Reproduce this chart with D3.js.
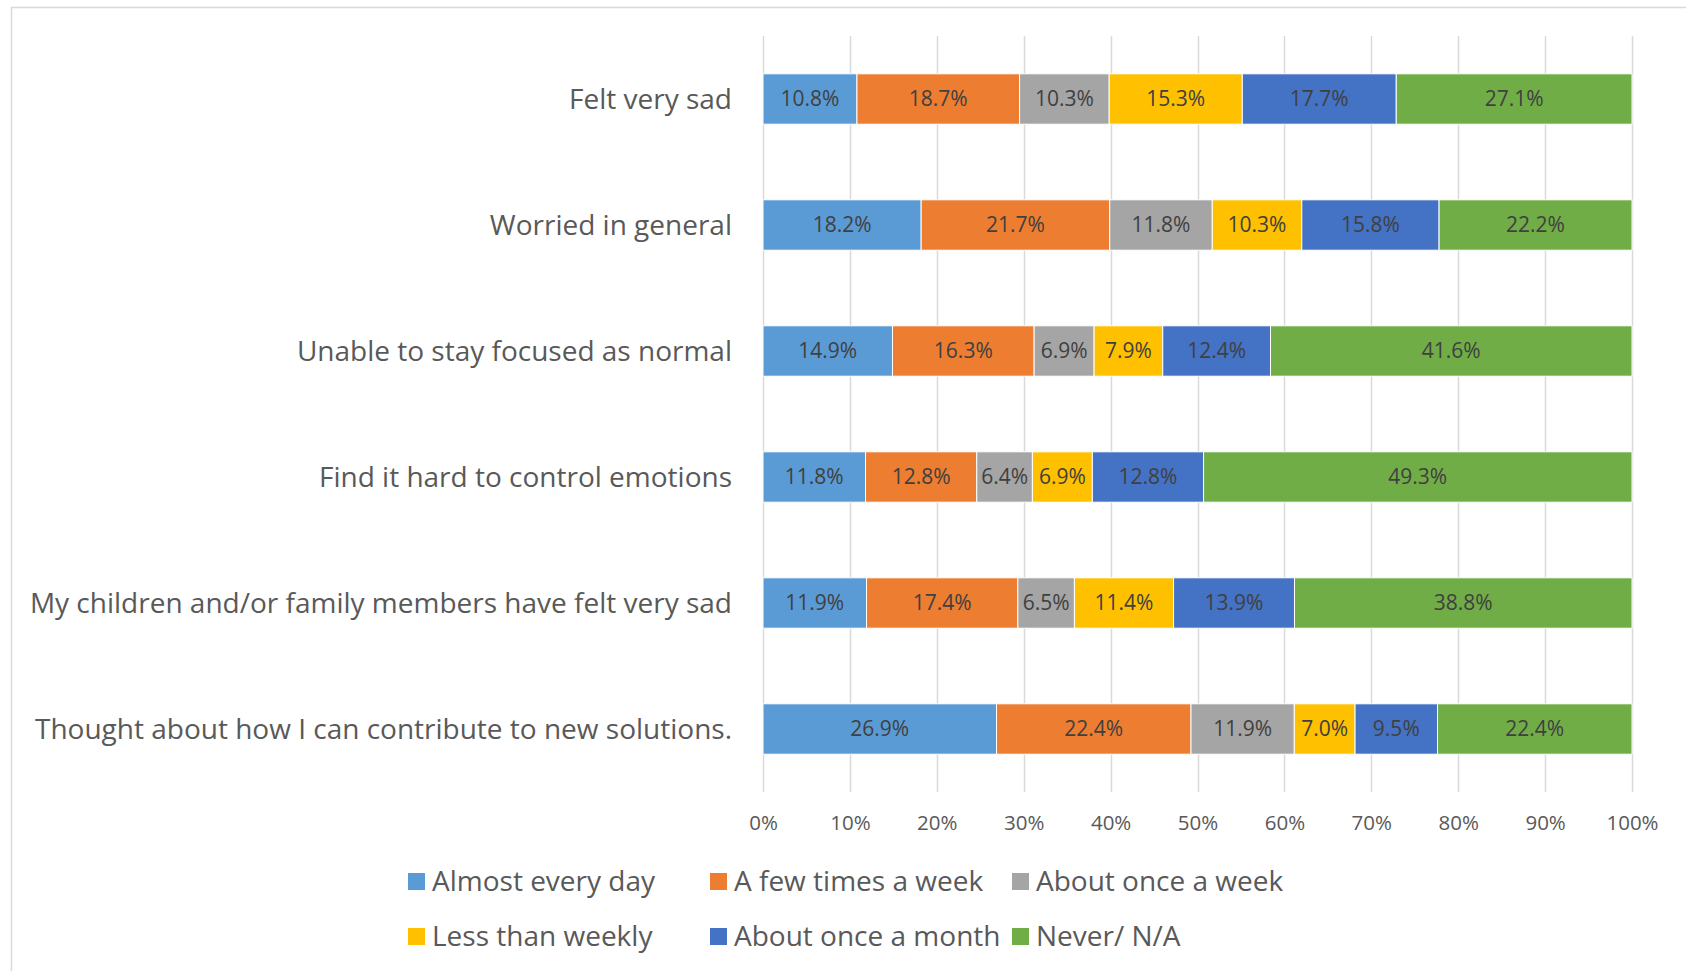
<!DOCTYPE html>
<html>
<head>
<meta charset="utf-8">
<script src="https://cdn.jsdelivr.net/npm/d3@7"></script>
<style>
body { margin: 0; background: #fff; }
text { font-family: "Open Sans", Lato, sans-serif; }
</style>
</head>
<body>
<div id="canvas"></div>
<script>
var categories = [
    'Felt very sad',
    'Worried in general',
    'Unable to stay focused as normal',
    'Find it hard to control emotions',
    'My children and/or family members have felt very sad',
    'Thought about how I can contribute to new solutions.'
];
var seriesNames = ['Almost every day', 'A few times a week', 'About once a week', 'Less than weekly', 'About once a month', 'Never/ N/A'];
var seriesColors = ['#5B9BD5', '#ED7D31', '#A5A5A5', '#FFC000', '#4472C4', '#70AD47'];
var almostEveryDay = [10.8, 18.2, 14.9, 11.8, 11.9, 26.9];
var fewTimesWeek = [18.7, 21.7, 16.3, 12.8, 17.4, 22.4];
var onceWeek = [10.3, 11.8, 6.9, 6.4, 6.5, 11.9];
var lessThanWeekly = [15.3, 10.3, 7.9, 6.9, 11.4, 7.0];
var onceMonth = [17.7, 15.8, 12.4, 12.8, 13.9, 9.5];
var never = [27.1, 22.2, 41.6, 49.3, 38.8, 22.4];
var tickValues = [0, 0.1, 0.2, 0.3, 0.4, 0.5, 0.6, 0.7, 0.8, 0.9, 1];

var width = 1686;
var height = 971;
var plotLeft = 763;
var plotRight = 1632;
var plotTop = 36;
var plotBottom = 792;

var seriesValues = [almostEveryDay, fewTimesWeek, onceWeek, lessThanWeekly, onceMonth, never];
var rows = categories.map(function (c, i) {
    var row = { category: c };
    seriesNames.forEach(function (s, j) { row[s] = seriesValues[j][i]; });
    return row;
});
var stacked = d3.stack().keys(seriesNames).offset(d3.stackOffsetExpand)(rows);

var x = d3.scaleLinear().domain([0, 1]).range([plotLeft, plotRight]);
var y = d3.scaleBand().domain(categories).range([plotTop, plotBottom]).paddingInner(0.6).paddingOuter(0.3);

var svg = d3.select('#canvas')
    .append('svg')
    .attr('width', width)
    .attr('height', height);

svg.append('rect')
    .attr('x', 11.5)
    .attr('y', 7.5)
    .attr('width', width)
    .attr('height', height)
    .style('fill', 'white')
    .style('stroke', '#d9d9d9')
    .style('stroke-width', 1.5);

// gridlines
svg.append('g')
    .selectAll('line')
    .data(tickValues)
    .enter()
    .append('line')
    .attr('x1', function (d) { return Math.round(x(d)) + 0.5; })
    .attr('x2', function (d) { return Math.round(x(d)) + 0.5; })
    .attr('y1', plotTop)
    .attr('y2', plotBottom)
    .style('stroke', '#d9d9d9')
    .style('stroke-width', 1.5);

// bars
var layers = svg.append('g')
    .selectAll('g')
    .data(stacked)
    .enter()
    .append('g')
    .style('fill', function (d, i) { return seriesColors[i]; });

layers.selectAll('rect')
    .data(function (d) { return d; })
    .enter()
    .append('rect')
    .attr('x', function (d) { return x(d[0]); })
    .attr('y', function (d) { return y(d.data.category); })
    .attr('width', function (d) { return x(d[1]) - x(d[0]); })
    .attr('height', y.bandwidth())
    .style('stroke', 'white')
    .style('stroke-width', 1);

// data labels
stacked.forEach(function (layer) {
    svg.append('g')
        .selectAll('text')
        .data(layer)
        .enter()
        .append('text')
        .attr('x', function (d) { return (x(d[0]) + x(d[1])) / 2; })
        .attr('y', function (d) { return y(d.data.category) + y.bandwidth() / 2; })
        .attr('dy', '0.35em')
        .attr('text-anchor', 'middle')
        .style('font-size', '21px')
        .style('fill', '#404040')
        .text(function (d) { return d.data[layer.key].toFixed(1) + '%'; });
});

// category labels
svg.append('g')
    .selectAll('text')
    .data(categories)
    .enter()
    .append('text')
    .attr('x', plotLeft - 31)
    .attr('y', function (d) { return y(d) + y.bandwidth() / 2; })
    .attr('dy', '0.35em')
    .attr('text-anchor', 'end')
    .style('font-size', '28px')
    .style('fill', '#595959')
    .text(function (d) { return d; });

// x axis labels
var xAxis = svg.append('g')
    .attr('transform', 'translate(0,' + 823 + ')')
    .call(d3.axisBottom(x).tickValues(tickValues).tickFormat(d3.format('.0%')).tickSize(0).tickPadding(0));
xAxis.select('.domain').remove();
xAxis.selectAll('text')
    .attr('dy', '0.35em')
    .style('font-family', '"Open Sans", Lato, sans-serif')
    .style('font-size', '20.5px')
    .style('fill', '#595959');

// legend
var legendX = [408, 710, 1012];
var legendY = [881, 936];
var legend = svg.append('g')
    .selectAll('g')
    .data(seriesNames)
    .enter()
    .append('g')
    .attr('transform', function (d, i) { return 'translate(' + legendX[i % 3] + ',' + legendY[Math.floor(i / 3)] + ')'; });
legend.append('rect')
    .attr('x', 0)
    .attr('y', -8)
    .attr('width', 17)
    .attr('height', 17)
    .style('fill', function (d, i) { return seriesColors[i]; });
legend.append('text')
    .attr('x', 24)
    .attr('y', 0)
    .attr('dy', '0.35em')
    .style('font-size', '28px')
    .style('fill', '#595959')
    .text(function (d) { return d; });
</script>
</body>
</html>
